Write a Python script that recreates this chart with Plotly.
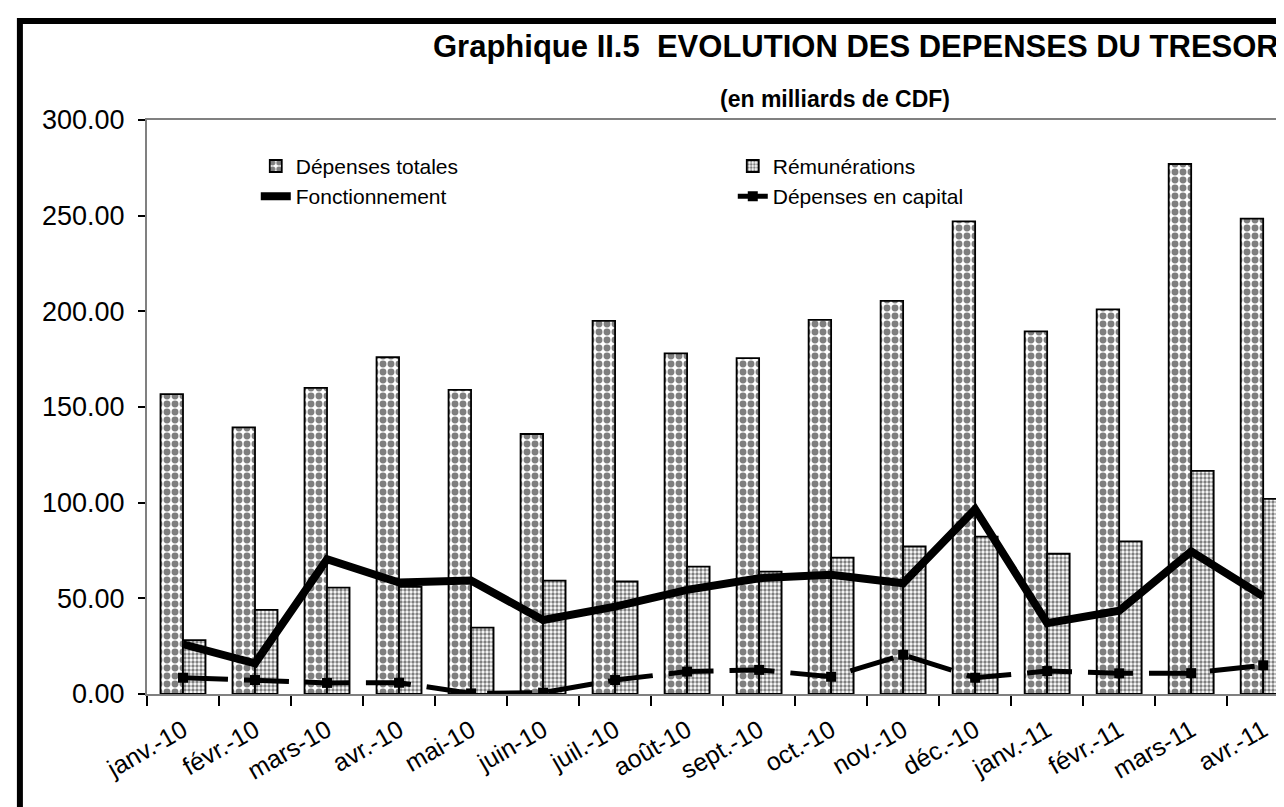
import plotly.graph_objects as go

# Categories (months) and series
mois = ["janv.-10", "févr.-10", "mars-10", "avr.-10", "mai-10", "juin-10",
        "juil.-10", "août-10", "sept.-10", "oct.-10", "nov.-10", "déc.-10",
        "janv.-11", "févr.-11", "mars-11", "avr.-11"]

depenses_totales = [156.7, 139.4, 160.0, 176.0, 159.0, 135.9, 195.0, 178.0,
                    175.5, 195.5, 205.5, 247.0, 189.5, 201.0, 277.0, 248.5]
remunerations = [28.2, 44.0, 55.6, 56.0, 34.7, 59.3, 58.8, 66.6,
                 64.0, 71.3, 77.1, 82.3, 73.3, 79.8, 116.6, 102.0]
fonctionnement = [26.0, 16.0, 70.5, 58.3, 59.3, 38.7, 45.7, 54.4,
                  60.5, 62.3, 57.9, 96.6, 37.0, 43.5, 74.5, 51.0]
depenses_capital = [8.5, 7.3, 5.8, 5.9, 0.3, 0.7, 7.3, 11.7,
                    12.6, 9.0, 20.5, 8.5, 12.0, 10.8, 10.9, 15.0]

y_ticks = [0, 50, 100, 150, 200, 250, 300]

FONT = "Liberation Sans, Arial, sans-serif"

fig = go.Figure()

fig.add_trace(go.Bar(
    x=mois, y=depenses_totales, name="Dépenses totales",
    marker=dict(color="white", line=dict(color="black", width=1.8),
                pattern=dict(shape=".", fgcolor="black", bgcolor="white",
                             size=8, solidity=0.58, fillmode="overlay")),
))
fig.add_trace(go.Bar(
    x=mois, y=remunerations, name="Rémunérations",
    marker=dict(color="white", line=dict(color="black", width=1.8),
                pattern=dict(shape=".", fgcolor="black", bgcolor="white",
                             size=4, solidity=0.55, fillmode="overlay")),
))
fig.add_trace(go.Scatter(
    x=mois, y=fonctionnement, name="Fonctionnement", mode="lines",
    line=dict(color="black", width=8),
))
fig.add_trace(go.Scatter(
    x=mois, y=depenses_capital, name="Dépenses en capital", mode="lines+markers",
    line=dict(color="black", width=5, dash="45px,16px"),
    marker=dict(symbol="square", size=10, color="black"),
))

# outer frame of the original picture
fig.add_shape(type="rect", xref="paper", yref="paper",
              x0=-0.111, x1=1.02, y0=-0.4, y1=1.1725,
              line=dict(color="black", width=6), fillcolor="rgba(0,0,0,0)",
              layer="above")

fig.add_annotation(text="<b>Graphique II.5  EVOLUTION DES DEPENSES DU TRESOR</b>",
                   xref="paper", yref="paper", x=0.99, y=1.128,
                   xanchor="right", yanchor="middle", showarrow=False,
                   font=dict(size=31, family=FONT, color="black"))
fig.add_annotation(text="<b>(en milliards de CDF)</b>",
                   xref="paper", yref="paper", x=0.601, y=1.036,
                   xanchor="center", yanchor="middle", showarrow=False,
                   font=dict(size=23, family=FONT, color="black"))

fig.update_layout(
    width=1284, height=807,
    margin=dict(l=139, r=0, t=112, b=121),
    paper_bgcolor="white", plot_bgcolor="white",
    font=dict(family=FONT, color="black", size=22),
    barmode="group", bargap=0.375, bargroupgap=0,
    showlegend=True,
    legend=dict(orientation="h", x=0.095, y=0.955, xanchor="left", yanchor="top",
                entrywidth=432, entrywidthmode="pixels",
                bgcolor="rgba(0,0,0,0)", font=dict(size=21, family=FONT),
                traceorder="normal", tracegroupgap=0),
    xaxis=dict(range=[-0.5, 15.4], showline=True, linecolor="#808080", linewidth=2,
               mirror=True, ticks="outside", tickson="boundaries", ticklen=10,
               tickcolor="black", tickwidth=2, tickangle=-30, ticklabelstandoff=10,
               tickfont=dict(size=25, family=FONT), showgrid=False),
    yaxis=dict(range=[0, 300], tickvals=y_ticks, tickformat=".2f",
               showline=True, linecolor="#808080", linewidth=2,
               ticks="outside", ticklen=7, tickcolor="black", tickwidth=2,
               ticklabelstandoff=8,
               tickfont=dict(size=27, family=FONT), showgrid=False, zeroline=False),
)

fig.write_html("out.html")
